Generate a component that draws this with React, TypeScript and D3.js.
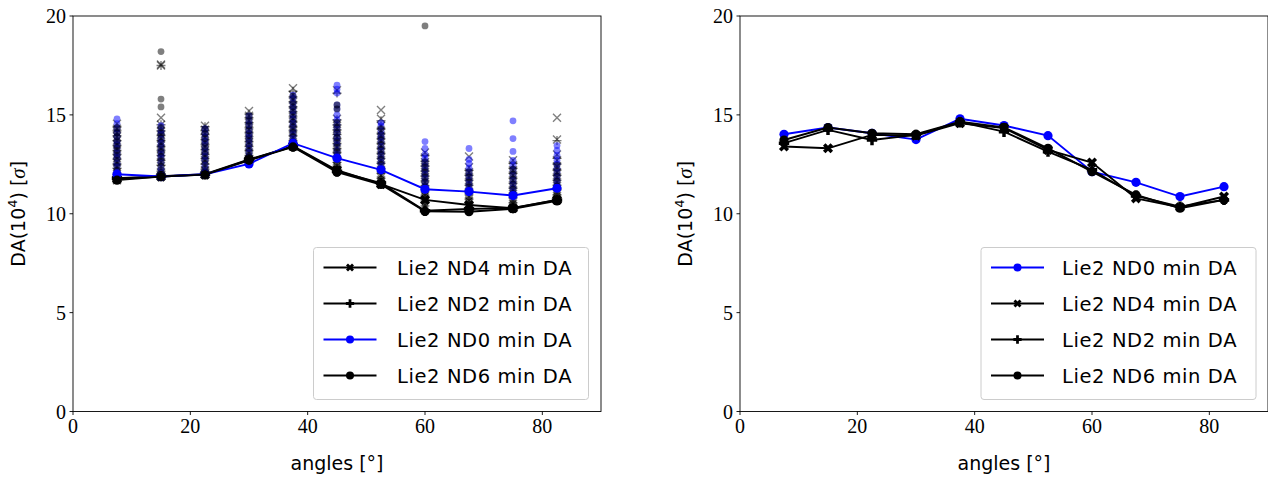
import React from 'react';
import * as d3 from 'd3';

const angles = [7.5, 15, 22.5, 30, 37.5, 45, 52.5, 60, 67.5, 75, 82.5];
const xTicks = [0, 20, 40, 60, 80];
const yTicks = [0, 5, 10, 15, 20];

// Left panel: min DA lines
const leftND0 = [12.0, 11.88, 12.0, 12.52, 13.57, 12.81, 12.22, 11.24, 11.12, 10.92, 11.29];
const leftND4 = [11.75, 11.88, 11.98, 12.72, 13.42, 12.2, 11.5, 10.7, 10.44, 10.28, 10.7];
const leftND2 = [11.8, 11.9, 12.0, 12.75, 13.4, 12.15, 11.55, 10.15, 10.24, 10.3, 10.7];
const leftND6 = [11.7, 11.88, 11.98, 12.7, 13.38, 12.1, 11.48, 10.12, 10.1, 10.25, 10.65];

// Right panel: min DA lines
const rightND0 = [14.02, 14.36, 14.07, 13.75, 14.8, 14.46, 13.95, 12.13, 11.59, 10.87, 11.37];
const rightND4 = [13.4, 13.31, 13.99, 13.95, 14.58, 14.33, 13.23, 12.59, 10.78, 10.33, 10.87];
const rightND2 = [13.57, 14.24, 13.73, 13.99, 14.63, 14.15, 13.14, 12.22, 10.9, 10.36, 10.7];
const rightND6 = [13.73, 14.36, 14.07, 14.02, 14.66, 14.37, 13.31, 12.13, 10.95, 10.28, 10.7];

// Left panel: scattered DA values per angle
const scatterND4 = [
  [11.7, 11.9, 12.1, 12.35, 12.6, 12.8, 13.0, 13.25, 13.5, 13.7, 13.9, 14.1, 14.3, 14.55],
  [11.9, 12.1, 12.4, 12.6, 12.9, 13.1, 13.3, 13.55, 13.8, 14.0, 14.2, 14.5, 14.85, 17.5, 17.55],
  [12.0, 12.2, 12.5, 12.7, 12.95, 13.2, 13.4, 13.6, 13.85, 14.05, 14.25, 14.45],
  [12.7, 12.9, 13.1, 13.35, 13.6, 13.8, 14.0, 14.25, 14.45, 14.7, 14.95, 15.2],
  [13.4, 13.6, 13.85, 14.1, 14.3, 14.55, 14.8, 15.0, 15.25, 15.5, 15.75, 16.0, 16.35],
  [12.2, 12.4, 12.65, 12.9, 13.1, 13.35, 13.6, 13.85, 14.05, 14.3, 14.55, 14.8, 16.25],
  [11.5, 11.7, 11.95, 12.2, 12.45, 12.7, 12.95, 13.2, 13.45, 13.7, 13.95, 14.2, 14.45, 14.8, 15.25],
  [10.7, 10.9, 11.15, 11.4, 11.6, 11.85, 12.1, 12.35, 12.6, 12.85, 13.1],
  [10.45, 10.65, 10.9, 11.1, 11.35, 11.6, 11.85, 12.1, 12.35, 12.9],
  [10.3, 10.5, 10.75, 11.0, 11.2, 11.45, 11.7, 11.95, 12.2, 12.45, 12.7],
  [10.7, 10.9, 11.15, 11.4, 11.6, 11.85, 12.1, 12.4, 12.7, 13.0, 13.75, 14.85],
];
const scatterND2 = [
  [11.75, 12.0, 12.3, 12.5, 12.75, 13.0, 13.2, 13.45, 13.7, 13.95, 14.2, 14.4],
  [11.9, 12.15, 12.45, 12.7, 12.95, 13.2, 13.4, 13.7, 13.95, 14.2, 14.5, 17.5],
  [12.0, 12.25, 12.5, 12.8, 13.0, 13.25, 13.5, 13.75, 14.0, 14.2, 14.4],
  [12.7, 12.95, 13.2, 13.4, 13.65, 13.9, 14.1, 14.35, 14.6, 14.85, 15.05],
  [13.45, 13.7, 13.95, 14.2, 14.4, 14.65, 14.9, 15.15, 15.4, 15.65, 15.9, 16.2],
  [12.15, 12.4, 12.6, 12.85, 13.1, 13.3, 13.55, 13.8, 14.0, 14.25, 14.5, 14.75, 16.1],
  [11.55, 11.8, 12.05, 12.3, 12.55, 12.8, 13.05, 13.3, 13.55, 13.8, 14.05, 14.3, 14.7],
  [10.15, 10.4, 10.65, 10.9, 11.15, 11.4, 11.65, 11.9, 12.15, 12.4, 12.65, 12.95],
  [10.25, 10.5, 10.75, 11.0, 11.2, 11.45, 11.7, 11.95, 12.2],
  [10.3, 10.55, 10.8, 11.05, 11.3, 11.55, 11.8, 12.05, 12.3, 12.55],
  [10.7, 10.95, 11.2, 11.45, 11.7, 11.95, 12.2, 12.5, 12.8, 13.7],
];
const scatterND0 = [
  [12.0, 12.15, 12.4, 12.55, 12.8, 12.95, 13.1, 13.3, 13.5, 13.65, 13.9, 14.1, 14.3, 14.55, 14.8],
  [11.9, 12.1, 12.3, 12.6, 12.85, 13.0, 13.2, 13.45, 13.6, 13.8, 14.05, 14.2, 14.45],
  [12.0, 12.2, 12.45, 12.7, 12.9, 13.1, 13.3, 13.55, 13.7, 13.9, 14.1, 14.3],
  [12.5, 12.7, 12.9, 13.1, 13.3, 13.5, 13.7, 13.9, 14.05, 14.25, 14.5, 14.7, 14.95],
  [13.6, 13.8, 14.0, 14.2, 14.45, 14.6, 14.8, 15.0, 15.2, 15.4, 15.6, 15.85, 16.0],
  [12.8, 13.0, 13.2, 13.5, 13.7, 13.9, 14.1, 14.3, 14.5, 14.75, 15.0, 15.3, 15.5, 16.1, 16.3, 16.5],
  [12.2, 12.4, 12.6, 12.8, 13.0, 13.2, 13.4, 13.65, 13.85, 14.0, 14.2, 14.45, 14.6],
  [11.25, 11.4, 11.6, 11.8, 12.0, 12.2, 12.4, 12.6, 12.8, 13.0, 13.3, 13.65],
  [11.1, 11.3, 11.5, 11.7, 11.9, 12.1, 12.3, 12.55, 12.75, 13.3],
  [10.9, 11.1, 11.3, 11.5, 11.7, 11.95, 12.2, 12.45, 12.7, 13.15, 13.8, 14.7],
  [11.3, 11.5, 11.7, 11.9, 12.1, 12.3, 12.5, 12.7, 12.95, 13.2, 13.45],
];
const scatterND6 = [
  [11.7, 11.95, 12.2, 12.45, 12.7, 12.95, 13.2, 13.4, 13.65, 13.9, 14.1, 14.35],
  [11.9, 12.1, 12.4, 12.65, 12.9, 13.15, 13.4, 13.65, 13.9, 14.1, 14.35, 15.4, 15.8, 18.2],
  [12.0, 12.25, 12.55, 12.8, 13.05, 13.3, 13.55, 13.8, 14.05, 14.3],
  [12.7, 12.95, 13.2, 13.45, 13.7, 13.95, 14.2, 14.45, 14.7, 14.95],
  [13.4, 13.65, 13.9, 14.15, 14.4, 14.65, 14.9, 15.15, 15.4, 15.65, 15.95],
  [12.1, 12.35, 12.6, 12.85, 13.1, 13.35, 13.6, 13.85, 14.1, 14.35, 14.6, 15.3, 15.5],
  [11.5, 11.75, 12.0, 12.25, 12.5, 12.75, 13.0, 13.25, 13.5, 13.75, 14.0, 14.3],
  [10.1, 10.35, 10.6, 10.85, 11.1, 11.35, 11.6, 11.85, 12.1, 12.35, 12.6, 19.5],
  [10.1, 10.35, 10.6, 10.85, 11.1, 11.35, 11.6, 11.85, 12.1],
  [10.25, 10.5, 10.75, 11.0, 11.25, 11.5, 11.75, 12.0, 12.25],
  [10.65, 10.9, 11.15, 11.4, 11.65, 11.9, 12.15, 12.45],
];

const BLUE = '#0000ff';
const SERIF = '"Liberation Serif", "DejaVu Serif", serif';
const SANS = '"DejaVu Sans", sans-serif';

type Marker = 'o' | 'X' | 'P';

const xPathBig = d3.symbol(d3.symbolCross, 64)();
const pPathBig = d3.symbol(d3.symbolCross, 60)();
const xPathSmall = d3.symbol(d3.symbolCross, 40)();
const pPathSmall = d3.symbol(d3.symbolCross, 38)();

function LineMarker({ m, x, y, color, r, small }: { m: Marker; x: number; y: number; color: string; r: number; small?: boolean }) {
  if (m === 'o') return <circle cx={x} cy={y} r={r} fill={color} />;
  if (m === 'X') return <path d={(small ? xPathSmall : xPathBig) as string} transform={`translate(${x},${y}) rotate(45)`} fill={color} />;
  return <path d={(small ? pPathSmall : pPathBig) as string} transform={`translate(${x},${y})`} fill={color} />;
}

type Series = { label: string; values: number[]; color: string; marker: Marker };

function Panel({ x0, series, scatter, legendX, legendTextX, legendW, legendRows }: any) {
  const x = d3.scaleLinear().domain([0, 90]).range([x0, x0 + 528]);
  const y = d3.scaleLinear().domain([0, 20]).range([411.5, 16]);
  const line = d3.line<number>().x((_, i) => x(angles[i])).y((v) => y(v));
  const top = y(20), bottom = y(0);
  return (
    <g>
      {scatter && (
        <g>
          {scatterND4.map((col, i) =>
            col.map((v, j) => (
              <path key={`a${i}-${j}`} d={`M-4,-4L4,4M-4,4L4,-4`} transform={`translate(${x(angles[i])},${y(v)})`} stroke="#000" strokeOpacity={0.5} strokeWidth={1.4} fill="none" />
            ))
          )}
          {scatterND2.map((col, i) =>
            col.map((v, j) => (
              <path key={`b${i}-${j}`} d={`M-4.5,0L4.5,0M0,-4.5L0,4.5`} transform={`translate(${x(angles[i])},${y(v)})`} stroke="#000" strokeOpacity={0.5} strokeWidth={1.4} fill="none" />
            ))
          )}
          {scatterND0.map((col, i) =>
            col.map((v, j) => (
              <circle key={`c${i}-${j}`} cx={x(angles[i])} cy={y(v)} r={3.4} fill={BLUE} fillOpacity={0.5} />
            ))
          )}
          {scatterND6.map((col, i) =>
            col.map((v, j) => (
              <circle key={`d${i}-${j}`} cx={x(angles[i])} cy={y(v)} r={3.4} fill="#000" fillOpacity={0.5} />
            ))
          )}
        </g>
      )}
      {series.map((s: Series) => (
        <g key={s.label}>
          <path d={line(s.values) as string} fill="none" stroke={s.color} strokeWidth={1.9} />
          {s.values.map((v, i) => (
            <LineMarker key={i} m={s.marker} x={x(angles[i])} y={y(v)} color={s.color} r={4.6} />
          ))}
        </g>
      ))}
      {/* spines */}
      <rect x={x0} y={top} width={528} height={bottom - top} fill="none" stroke="#000" strokeWidth={0.9} />
      {xTicks.map((t) => (
        <g key={t}>
          <line x1={x(t)} x2={x(t)} y1={bottom} y2={bottom + 3.5} stroke="#000" strokeWidth={0.9} />
          <text x={x(t)} y={433} textAnchor="middle" fontFamily={SERIF} fontSize={20} fill="#000">{t}</text>
        </g>
      ))}
      {yTicks.map((t) => (
        <g key={t}>
          <line x1={x0 - 3.5} x2={x0} y1={y(t)} y2={y(t)} stroke="#000" strokeWidth={0.9} />
          <text x={x0 - 7} y={y(t) + 7} textAnchor="end" fontFamily={SERIF} fontSize={20} fill="#000">{t}</text>
        </g>
      ))}
      <text x={x0 + 264} y={470} textAnchor="middle" fontFamily={SANS} fontSize={19} fill="#000">angles [°]</text>
      <text transform={`translate(${x0 - 48},${(top + bottom) / 2}) rotate(-90)`} textAnchor="middle" fontFamily={SANS} fontSize={19} fill="#000">
        DA(10<tspan fontSize={13} dy={-8}>4</tspan><tspan dy={8}>) [</tspan><tspan fontFamily={SERIF} fontStyle="italic" fontSize={21}>σ</tspan>]
      </text>
      {/* legend */}
      <rect x={legendX} y={247.5} width={legendW} height={152} rx={3} fill="#fff" fillOpacity={0.8} stroke="#cccccc" strokeWidth={1} />
      {legendRows.map((s: Series, i: number) => {
        const ly = 267.5 + i * 36;
        return (
          <g key={s.label}>
            <line x1={legendX + 10} x2={legendX + 63} y1={ly} y2={ly} stroke={s.color} strokeWidth={1.9} />
            <LineMarker m={s.marker} x={legendX + 36.5} y={ly} color={s.color} r={4} small />
            <text x={legendTextX} y={ly + 7.5} fontFamily={SANS} fontSize={19.5} letterSpacing={0.6} fill="#000">{s.label}</text>
          </g>
        );
      })}
    </g>
  );
}

export default function App() {
  const lND4: Series = { label: 'Lie2 ND4 min DA', values: leftND4, color: '#000', marker: 'X' };
  const lND2: Series = { label: 'Lie2 ND2 min DA', values: leftND2, color: '#000', marker: 'P' };
  const lND0: Series = { label: 'Lie2 ND0 min DA', values: leftND0, color: BLUE, marker: 'o' };
  const lND6: Series = { label: 'Lie2 ND6 min DA', values: leftND6, color: '#000', marker: 'o' };
  const rND0: Series = { label: 'Lie2 ND0 min DA', values: rightND0, color: BLUE, marker: 'o' };
  const rND4: Series = { label: 'Lie2 ND4 min DA', values: rightND4, color: '#000', marker: 'X' };
  const rND2: Series = { label: 'Lie2 ND2 min DA', values: rightND2, color: '#000', marker: 'P' };
  const rND6: Series = { label: 'Lie2 ND6 min DA', values: rightND6, color: '#000', marker: 'o' };
  return (
    <svg width={1268} height={480} style={{ position: 'absolute', left: 0, top: 0, background: '#fff' }}>
      <rect width={1268} height={480} fill="#fff" />
      <Panel x0={73} series={[lND4, lND2, lND0, lND6]} scatter legendX={313.5} legendTextX={397} legendW={275} legendRows={[lND4, lND2, lND0, lND6]} />
      <Panel x0={740} series={[rND0, rND4, rND2, rND6]} scatter={false} legendX={981} legendTextX={1062} legendW={275} legendRows={[rND0, rND4, rND2, rND6]} />
    </svg>
  );
}
